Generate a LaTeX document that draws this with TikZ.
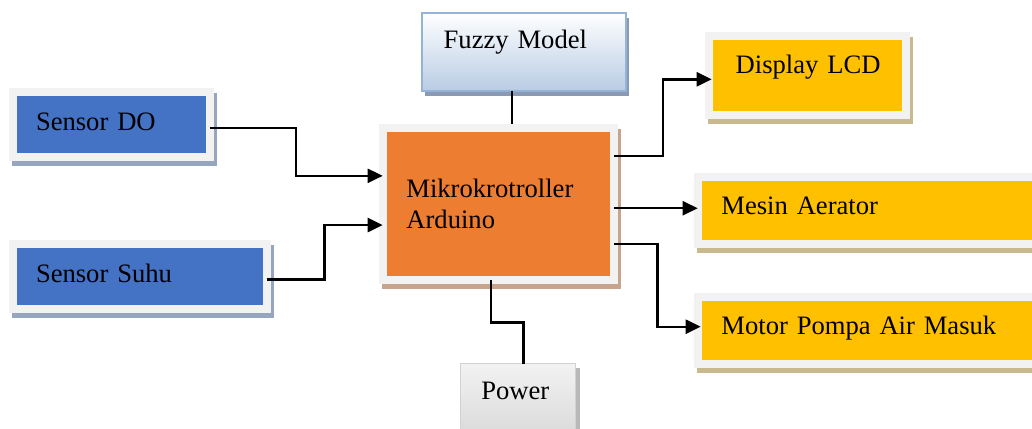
\documentclass[tikz,border=0pt]{standalone}
\usepackage{fontspec}
\setmainfont{Liberation Serif}
\usepackage{xcolor}
\usepackage{tikz}
\usetikzlibrary{arrows.meta}

\definecolor{framegrey}{HTML}{F2F2F2}
\definecolor{sensorblue}{HTML}{4472C4}
\definecolor{sensorshade}{HTML}{97A6BF}
\definecolor{mcuorange}{HTML}{ED7D31}
\definecolor{mcushade}{HTML}{C8A48C}
\definecolor{outyellow}{HTML}{FFC000}
\definecolor{outshade}{HTML}{C9B98F}
\definecolor{fuzzyedge}{HTML}{95B3D7}
\definecolor{fuzzybottom}{HTML}{B8CCE4}
\definecolor{fuzzyshade}{HTML}{8A9AB4}

\newcommand{\boxfont}{\fontsize{26.6}{30.6}\selectfont\spaceskip=4.4pt\relax}

\begin{document}
\begin{tikzpicture}[
  x=1pt, y=-1pt,
  base/.style={font=\boxfont, align=left, inner ysep=0pt, outer sep=0pt},
  framed/.style 2 args={base, fill=#1, draw=framegrey, line width=8pt,
               preaction={fill=#2, draw=#2, line width=8pt,
                          transform canvas={shift={(3pt,-5pt)}}}},
  sensor/.style={framed={sensorblue}{sensorshade}},
  mcu/.style={framed={mcuorange}{mcushade}},
  output/.style={framed={outyellow}{outshade}},
  fuzzybox/.style={base, draw=fuzzyedge, line width=2pt,
               top color=white, bottom color=fuzzybottom,
               preaction={fill=fuzzyshade, transform canvas={shift={(3pt,-5pt)}}}},
  powerbox/.style={base, draw=gray!35, line width=1pt,
               top color=gray!10, bottom color=gray!32,
               preaction={fill=gray!55, transform canvas={shift={(4pt,-4pt)}}}},
  arrow/.style={-{Triangle[length=15pt,width=14pt]}, line width=2.4pt},
  link/.style={line width=2.4pt}
]
\clip (0,0) rectangle (1032,428);

% inputs
\node[sensor, minimum width=196.4pt, minimum height=65pt, text width=151pt,
      inner xsep=22.7pt, text height=18pt, text depth=6pt]
      (sdo) at (111.5,124.2) {Sensor DO};
\node[sensor, minimum width=253.4pt, minimum height=64.7pt, text width=208pt,
      inner xsep=22.7pt, text height=18pt, text depth=6pt]
      (suhu) at (140,276.7) {Sensor Suhu};

% controller
\node[mcu, minimum width=231.3pt, minimum height=152.3pt, text width=183.9pt,
      inner xsep=23.7pt]
      (mikro) at (498.35,203.85) {Mikrokrotroller\\Arduino};
\node[fuzzybox, minimum width=204pt, minimum height=78pt, text width=160pt,
      inner xsep=22pt, text height=18pt, text depth=24.8pt]
      (fuzzy) at (523.7,51.7) {Fuzzy Model};
\node[powerbox, minimum width=115pt, minimum height=81.2pt, text width=73.4pt,
      inner xsep=20.8pt, text height=18pt, text depth=28.2pt]
      (power) at (518,404.4) {Power};

% outputs
\node[output, minimum width=197pt, minimum height=79pt, text width=143pt,
      inner xsep=27pt, text height=18pt, text depth=21pt]
      (lcd) at (807.2,75.5) {\mbox{Display LCD}};
\node[output, minimum width=342.3pt, minimum height=67.3pt, text width=294.9pt,
      inner xsep=23.7pt, text height=18pt, text depth=10pt]
      (aerator) at (868.85,210.35) {Mesin Aerator};
\node[output, minimum width=342.3pt, minimum height=67.3pt, text width=294.9pt,
      inner xsep=23.7pt, text height=18pt, text depth=10pt]
      (motor) at (868.85,330.35) {Motor Pompa Air Masuk};

% connectors
\draw[arrow] ([shift={(0,4)}]sdo.east) -| ([shift={(-87,-28)}]mikro.west)
  -- ([shift={(0,-28)}]mikro.west);
\draw[arrow] ([shift={(0,2.6)}]suhu.east) -| ([shift={(-58.4,21.2)}]mikro.west)
  -- ([shift={(0,21.2)}]mikro.west);
\draw[link, shorten >=4pt] ([shift={(-12,0)}]fuzzy.south) coordinate (fz)
  -- (fz |- mikro.north);
\draw[link] ([shift={(-7.65,0)}]mikro.south) |- ([shift={(5.3,-41.5)}]power.north)
  -- ([shift={(5.3,0)}]power.north);
\draw[arrow, shorten >=-3pt] ([shift={(0,-47.9)}]mikro.east)
  -| ([shift={(-46,3.8)}]lcd.west) -- ([shift={(0,3.8)}]lcd.west);
\draw[arrow] ([shift={(0,4.4)}]mikro.east) -- ([shift={(0,-2.1)}]aerator.west);
\draw[arrow, shorten >=-3pt] ([shift={(0,40.15)}]mikro.east)
  -| ([shift={(-40.4,-3.65)}]motor.west) -- ([shift={(0,-3.65)}]motor.west);
\end{tikzpicture}
\end{document}
